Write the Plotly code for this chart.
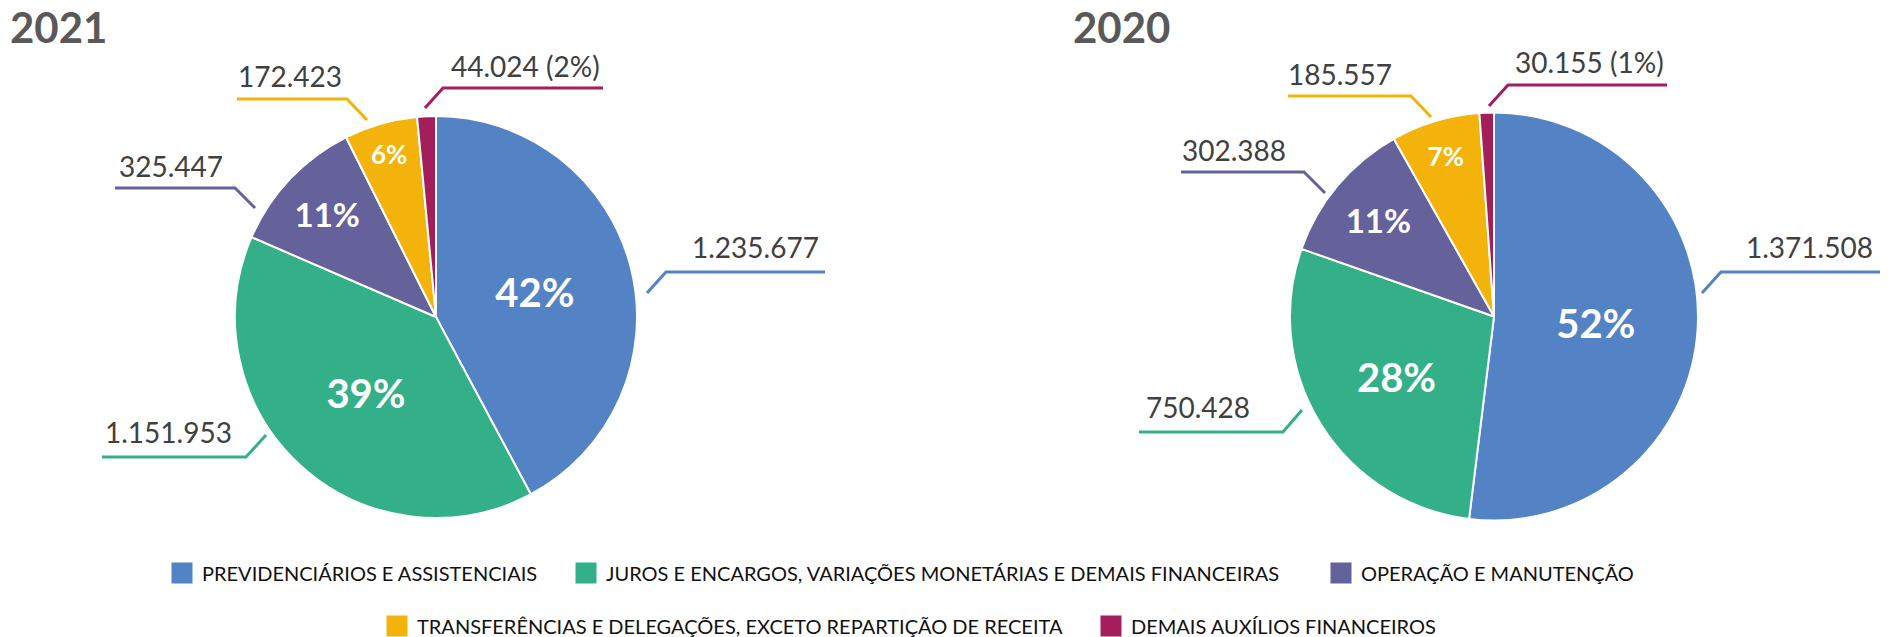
import plotly.graph_objects as go

# ---------------- data ----------------
categories = [
    "PREVIDENCIÁRIOS E ASSISTENCIAIS",
    "JUROS E ENCARGOS, VARIAÇÕES MONETÁRIAS E DEMAIS FINANCEIRAS",
    "OPERAÇÃO E MANUTENÇÃO",
    "TRANSFERÊNCIAS E DELEGAÇÕES, EXCETO REPARTIÇÃO DE RECEITA",
    "DEMAIS AUXÍLIOS FINANCEIROS",
]
years = ["2021", "2020"]
values_2021 = [1235677, 1151953, 325447, 172423, 44024]
values_2020 = [1371508, 750428, 302388, 185557, 30155]

# ---------------- style ----------------
W, H = 1895, 637
FONT = "Lato, 'Open Sans', sans-serif"
colors = ["#5383C5", "#33B088", "#65629B", "#F4B30A", "#A31F5B"]
LABEL_COLOR = "#404040"
LEGEND_COLOR = "#111111"
TITLE_COLOR = "#595959"

# pie placement in pixels: (center x, center y, radius)
pie_geom = [(436, 317, 201), (1494, 316.5, 204)]
title_pos = [(8, 27), (1071, 27)]
inside_sizes = [40, 40, 33, 26, 26]

# outside label layout per pie and slice, in pixels:
# (text centre x, text centre y, underline y, underline x0, underline x1, leader end x, leader end y, elbow at x0?)
label_layout = [
    [
        (755, 247, 272, 666, 825, 647, 293, True),
        (168, 432, 457, 102, 246, 266, 435, False),
        (171, 166, 188, 115, 235, 255, 208, False),
        (290, 76, 99, 237, 347, 367, 120, False),
        (525, 66, 88, 443, 603, 425, 108, True),
    ],
    [
        (1809, 247, 272, 1721, 1880, 1702, 293, True),
        (1198, 407, 432, 1139, 1283, 1302, 410, False),
        (1234, 150, 172, 1181, 1304, 1325, 193, False),
        (1340, 74, 96, 1288, 1411, 1431, 117, False),
        (1589, 62, 85, 1508, 1667, 1489, 106, True),
    ],
]

# legend entry placement: (legend id, left edge of colour square in px, row centre y in px)
legend_slots = [
    ("legend", 170, 573),
    ("legend2", 574, 573),
    ("legend3", 1329, 573),
    ("legend4", 385, 626),
    ("legend5", 1099, 626),
]


def px(x, y):
    return x / W, 1 - y / H


def fmt(v):
    return f"{v:,}".replace(",", ".")


fig = go.Figure()
annotations = []
shapes = []

for k, (year, vals) in enumerate(zip(years, [values_2021, values_2020])):
    cx, cy, r = pie_geom[k]
    total = sum(vals)
    pcts = [round(v / total * 100) for v in vals]
    small = [v / total < 0.025 for v in vals]
    fig.add_trace(go.Pie(
        labels=categories,
        values=vals,
        sort=False,
        direction="clockwise",
        rotation=0,
        domain=dict(x=[(cx - r) / W, (cx + r) / W],
                    y=[1 - (cy + r) / H, 1 - (cy - r) / H]),
        marker=dict(colors=colors, line=dict(color="white", width=2)),
        texttemplate="%{percent:.0%}",
        textposition=["none" if s else "inside" for s in small],
        insidetextorientation="horizontal",
        insidetextfont=dict(family=FONT, color="white", size=inside_sizes,
                            weight="bold"),
        showlegend=False,
        hoverinfo="label+value+percent",
    ))
    tx, ty = title_pos[k]
    x, y = px(tx, ty)
    annotations.append(dict(text=f"<b>{year}</b>", x=x, y=y, xref="paper", yref="paper",
                            xanchor="left", yanchor="middle", showarrow=False,
                            font=dict(family=FONT, size=42, color=TITLE_COLOR)))
    for i, v in enumerate(vals):
        tcx, tcy, ly, lx0, lx1, ex, ey, elbow_left = label_layout[k][i]
        txt = fmt(v) + (f" ({pcts[i]}%)" if small[i] else "")
        x, y = px(tcx, tcy)
        annotations.append(dict(text=txt, x=x, y=y, xref="paper", yref="paper",
                                xanchor="center", yanchor="middle", showarrow=False,
                                font=dict(family=FONT, size=28, color=LABEL_COLOR)))
        bx = lx0 if elbow_left else lx1
        ox = lx1 if elbow_left else lx0
        p0 = px(ox, ly)
        p1 = px(bx, ly)
        p2 = px(ex, ey)
        shapes.append(dict(type="path", xref="paper", yref="paper",
                           path=f"M {p0[0]},{p0[1]} L {p1[0]},{p1[1]} L {p2[0]},{p2[1]}",
                           line=dict(color=colors[i], width=3)))

# legend: one single-entry legend per category, placed like the original's two centred rows
legend_layouts = {}
for name, c, (lg, sq_left, row_y) in zip(categories, colors, legend_slots):
    fig.add_trace(go.Scatter(x=[None], y=[None], mode="markers", name=name,
                             marker=dict(symbol="square", size=16, color=c,
                                         line=dict(color=c, width=5)),
                             legend=lg, showlegend=True, hoverinfo="skip"))
    legend_layouts[lg] = dict(
        x=(sq_left - 8) / W, y=1 - row_y / H, xanchor="left", yanchor="middle",
        orientation="h", itemwidth=30,
        font=dict(family=FONT, size=20, color=LEGEND_COLOR),
        bgcolor="rgba(0,0,0,0)", borderwidth=0,
        itemclick=False, itemdoubleclick=False,
    )

fig.update_layout(
    width=W, height=H,
    margin=dict(l=0, r=0, t=0, b=0, autoexpand=False),
    paper_bgcolor="white", plot_bgcolor="white",
    xaxis=dict(visible=False), yaxis=dict(visible=False),
    annotations=annotations,
    shapes=shapes,
    font=dict(family=FONT),
    **legend_layouts,
)

fig.write_html("out.html", config={"displayModeBar": False},
               post_script="document.body.style.margin='0';document.body.style.overflow='hidden';")
